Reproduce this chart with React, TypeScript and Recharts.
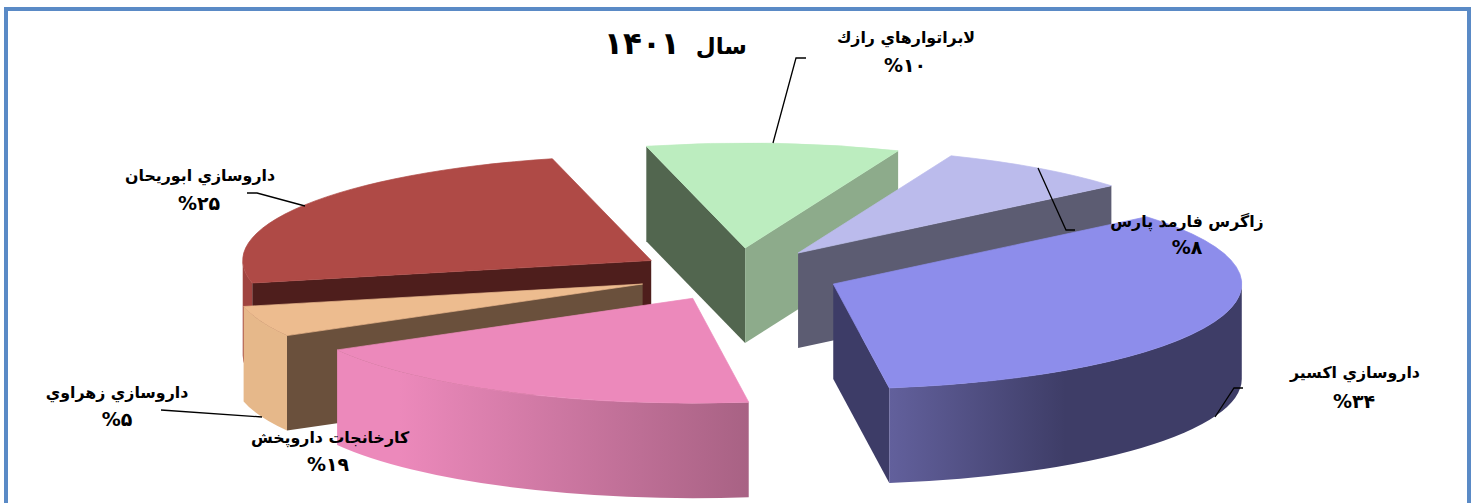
import React from "react";
import { PieChart, Pie } from "recharts";

const categories = [
  "لابراتوارهاي رازك",
  "زاگرس فارمد پارس",
  "داروسازي اكسير",
  "كارخانجات داروپخش",
  "داروسازي زهراوي",
  "داروسازي ابوريحان",
];
const shares = [10, 7.8, 33.9, 19, 4.75, 24.55];
const titleWord = "سال";
const titleYear = "۱۴۰۱";

const tableData = categories.map((name, i) => ({ name, value: shares[i] }));

// Painter's order of the slices, back to front
const drawOrder = [5, 0, 1, 2, 4, 3];

type Look = { top: string; start: string; end: string; rim: [number, string][] };
const looks: Look[] = [
  { top: "#bcedbf", start: "#52664f", end: "#8dab8b", rim: [[0, "#8dab8b"], [1, "#8dab8b"]] },
  { top: "#bbbbec", start: "#5c5c72", end: "#5c5c72", rim: [[0, "#8d8db5"], [1, "#8d8db5"]] },
  { top: "#8d8deb", start: "#3d3c67", end: "#3d3c67", rim: [[0, "#62609c"], [0.5, "#3e3d67"], [1, "#3e3d67"]] },
  { top: "#ec89bb", start: "#a86284", end: "#a86284", rim: [[0, "#ec89bb"], [0.15, "#ec89bb"], [1, "#a86284"]] },
  { top: "#edbc8f", start: "#6a503c", end: "#6a503c", rim: [[0, "#e6b88a"], [1, "#e6b88a"]] },
  { top: "#af4a46", start: "#4e1e1c", end: "#4e1e1c", rim: [[0, "#a04440"], [1, "#a04440"]] },
];

type Place = { nameAt: [number, number]; pctAt: [number, number]; line: [number, number][] };
const places: Place[] = [
  { nameAt: [906, 43], pctAt: [905, 72], line: [[806, 58], [796, 58], [773, 143]] },
  { nameAt: [1187, 227], pctAt: [1187, 254], line: [[1038, 168], [1066, 230], [1075, 230]] },
  { nameAt: [1355, 378], pctAt: [1354, 408], line: [[1215, 417], [1234, 388], [1243, 388]] },
  { nameAt: [330, 443], pctAt: [328, 471], line: [] },
  { nameAt: [117, 398], pctAt: [117, 426], line: [[161, 410], [262, 417]] },
  { nameAt: [200, 181], pctAt: [199, 210], line: [[247, 193], [257, 193], [305, 206]] },
];

const CX = 738;
const CY = 274.5;
const R = 408.5;
const SQUASH = 105 / 409;
const DEPTH = 95;
const EXPLODE = 0.25;
const FONT = "'DejaVu Sans', sans-serif";

const rad = (d: number) => (d * Math.PI) / 180;
const toPersian = (n: number) => String(n).replace(/\d/g, (d) => "۰۱۲۳۴۵۶۷۸۹"[Number(d)]);

function sliceShape(only: number) {
  return (props: any) => {
    const idx = categories.indexOf(props.name);
    if (idx !== only) return <g />;
    const look = looks[idx];
    const t1 = 90 - props.startAngle;
    const t2 = 90 - props.endAngle;
    const mid = (t1 + t2) / 2;
    const rx = props.outerRadius;
    const ry = rx * SQUASH;
    const ax = props.cx + EXPLODE * rx * Math.sin(rad(mid));
    const ay = props.cy - EXPLODE * rx * 0.26 * Math.cos(rad(mid));
    const pt = (t: number, drop = 0): [number, number] => [
      ax + rx * Math.sin(rad(t)),
      ay - ry * Math.cos(rad(t)) + drop,
    ];
    const arc = (a: number, b: number, drop = 0) => {
      const [x, y] = pt(b, drop);
      const large = Math.abs(b - a) > 180 ? 1 : 0;
      const sweep = b > a ? 1 : 0;
      return `A ${rx} ${ry} 0 ${large} ${sweep} ${x} ${y}`;
    };
    const face = (t: number) => {
      const p = pt(t);
      const q = pt(t, DEPTH);
      return `M ${ax} ${ay} L ${p[0]} ${p[1]} L ${q[0]} ${q[1]} L ${ax} ${ay + DEPTH} Z`;
    };
    // the outer wall is seen only on the part of the rim that faces the viewer
    const r1 = Math.max(t1, 90);
    const r2 = Math.min(t2, 270);
    const showRim = r2 > r1;
    const rimPath = showRim
      ? `M ${pt(r1).join(" ")} ${arc(r1, r2)} L ${pt(r2, DEPTH).join(" ")} ${arc(r2, r1, DEPTH)} Z`
      : "";
    const s1 = Math.sin(rad(t1));
    const s2 = Math.sin(rad(t2));
    const topPath = `M ${ax} ${ay} L ${pt(t1).join(" ")} ${arc(t1, t2)} Z`;
    const gid = `rim-${idx}`;
    return (
      <g>
        <defs>
          <linearGradient id={gid} x1="0" y1="0" x2="1" y2="0">
            {look.rim.map(([o, c], i) => (
              <stop key={i} offset={o} stopColor={c} />
            ))}
          </linearGradient>
        </defs>
        {s1 < 0 && <path d={face(t1)} fill={look.start} />}
        {s2 > 0 && <path d={face(t2)} fill={look.end} />}
        {showRim && <path d={rimPath} fill={`url(#${gid})`} />}
        <path d={topPath} fill={look.top} stroke={look.top} strokeWidth={0.7} strokeLinejoin="round" />
      </g>
    );
  };
}

function renderLabel(props: any) {
  const idx = categories.indexOf(props.name);
  const place = places[idx];
  const pct = toPersian(Math.round(props.percent * 100));
  return (
    <g key={props.name}>
      {place.line.length > 0 && (
        <polyline
          points={place.line.map((p) => p.join(",")).join(" ")}
          fill="none"
          stroke="#000"
          strokeWidth={1.3}
        />
      )}
      <text
        x={place.nameAt[0]}
        y={place.nameAt[1]}
        textAnchor="middle"
        direction="rtl"
        fontFamily={FONT}
        fontWeight="bold"
        fontSize={15.8}
        fill="#000"
      >
        {props.name}
      </text>
      <text
        x={place.pctAt[0]}
        y={place.pctAt[1]}
        textAnchor="middle"
        direction="ltr"
        fontFamily={FONT}
        fontWeight="bold"
        fontSize={19}
        fill="#000"
      >
        {"%" + pct}
      </text>
    </g>
  );
}

export default function App() {
  const common = {
    data: tableData,
    dataKey: "value",
    nameKey: "name",
    cx: CX,
    cy: CY,
    outerRadius: R,
    startAngle: 104,
    endAngle: -256,
    stroke: "none",
    isAnimationActive: false,
    labelLine: false,
  };
  return (
    <div style={{ position: "absolute", left: 0, top: 0, width: 1478, height: 503, overflow: "hidden", background: "#fff" }}>
      <div
        style={{
          position: "absolute",
          left: 4,
          top: 7,
          width: 1459,
          height: 600,
          border: "4px solid #5a8ac6",
        }}
      />
      <div style={{ position: "absolute", left: 0, top: 0 }}>
        <PieChart width={1478} height={503} margin={{ top: 0, right: 0, bottom: 0, left: 0 }}>
          {drawOrder.map((i) => {
            const s = sliceShape(i);
            return <Pie key={i} {...common} shape={s} inactiveShape={s} />;
          })}
          <Pie
            key="labels"
            {...common}
            shape={() => <g />}
            inactiveShape={() => <g />}
            label={renderLabel}
          />
          <text
            x={747}
            y={54}
            textAnchor="start"
            direction="rtl"
            fontFamily={FONT}
            fontWeight="bold"
            fontSize={23}
            fill="#000"
          >
            {titleWord + "\u00A0\u00A0"}<tspan fontSize={31}>{titleYear}</tspan>
          </text>
        </PieChart>
      </div>
    </div>
  );
}
